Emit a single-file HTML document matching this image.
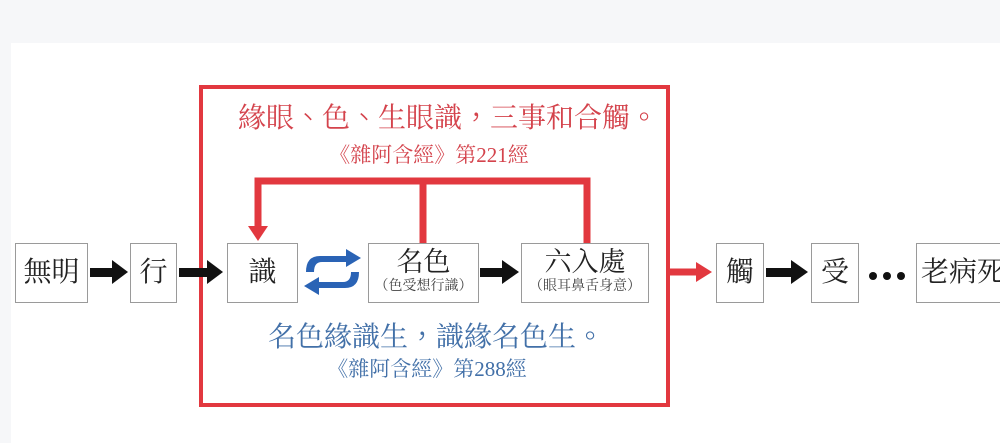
<!DOCTYPE html>
<html><head><meta charset="utf-8"><style>
body{margin:0;width:1000px;height:443px;background:#f6f7f9;overflow:hidden;position:relative;font-family:"Liberation Serif","Noto Serif CJK SC",serif}
.card{position:absolute;left:11px;top:43px;width:989px;height:400px;background:#fff}
.b{position:absolute;border:1.5px solid #9a9a9a;background:#fff;box-sizing:border-box;text-align:center;color:#222}
.t{position:absolute;white-space:nowrap;text-align:center}
.p{font-family:"Noto Sans CJK TC",sans-serif;font-weight:300}
</style></head><body>
<div class="card"></div>
<svg style="position:absolute;left:0;top:0" width="1000" height="443">
<rect x="201" y="87" width="467" height="318" fill="none" stroke="#e2383f" stroke-width="4"/>
<g fill="none" stroke="#e2383f" stroke-width="7">
<polyline points="258,228 258,181 587,181 587,243"/>
<line x1="423" y1="181" x2="423" y2="243"/>
<line x1="670" y1="272" x2="698" y2="272"/>
</g>
<polygon points="248,226 268,226 258,241" fill="#e2383f"/>
<polygon points="696,262 712,272 696,282" fill="#e2383f"/>
<g fill="#111">
<rect x="90" y="268" width="24" height="9"/><polygon points="112,260 128,272 112,284"/>
<rect x="179" y="268" width="30" height="9"/><polygon points="207,260 223,272 207,284"/>
<rect x="480" y="268" width="24" height="9"/><polygon points="502,260 519,272 502,284"/>
<rect x="766" y="268" width="27" height="9"/><polygon points="791,260 808,272 791,284"/>
<circle cx="873" cy="276" r="4"/><circle cx="887" cy="276" r="4"/><circle cx="901" cy="276" r="4"/>
</g>
<g fill="#2a63b5">
<path d="M306,272 Q306,256 320,256 L346,256 L346,249 L361,258 L346,267 L346,262 L322,262 Q314,262 314,272 Z"/>
<path d="M359,272 Q359,288 345,288 L319,288 L319,295 L304,286 L319,277 L319,282 L343,282 Q351,282 351,272 Z"/>
</g>
</svg>
<div class="b" style="left:15px;top:243px;width:73px;height:60px;font-size:28px;line-height:58px">無明</div>
<div class="b" style="left:130px;top:243px;width:47px;height:60px;font-size:28px;line-height:58px">行</div>
<div class="b" style="left:227px;top:243px;width:71px;height:60px;font-size:28px;line-height:58px">識</div>
<div class="b" style="left:368px;top:243px;width:111px;height:60px"><div style="font-size:27px;line-height:32px;margin-top:2px">名色</div><div style="font-size:14px;line-height:18px;color:#444">（色受想行識）</div></div>
<div class="b" style="left:521px;top:243px;width:128px;height:60px"><div style="font-size:27px;line-height:32px;margin-top:2px">六入處</div><div style="font-size:14px;line-height:18px;color:#444">（眼耳鼻舌身意）</div></div>
<div class="b" style="left:716px;top:243px;width:48px;height:60px;font-size:28px;line-height:58px">觸</div>
<div class="b" style="left:811px;top:243px;width:48px;height:60px;font-size:28px;line-height:58px">受</div>
<div class="b" style="left:916px;top:243px;width:100px;height:60px;font-size:28px;line-height:58px;text-align:left;padding-left:4px">老病死</div>
<div class="t" style="left:148px;width:600px;top:98px;font-size:28px;line-height:36px;color:#d4434c">緣眼<span class="p">、</span>色<span class="p">、</span>生眼識<span class="p">，</span>三事和合觸<span class="p">。</span></div>
<div class="t" style="left:229px;width:400px;top:141px;font-size:21px;line-height:28px;color:#d4434c">《雜阿含經》第221經</div>
<div class="t" style="left:136px;width:600px;top:317px;font-size:28px;line-height:36px;color:#4270a8">名色緣識生<span class="p">，</span>識緣名色生<span class="p">。</span></div>
<div class="t" style="left:227px;width:400px;top:355px;font-size:21px;line-height:28px;color:#4270a8">《雜阿含經》第288經</div>
</body></html>
